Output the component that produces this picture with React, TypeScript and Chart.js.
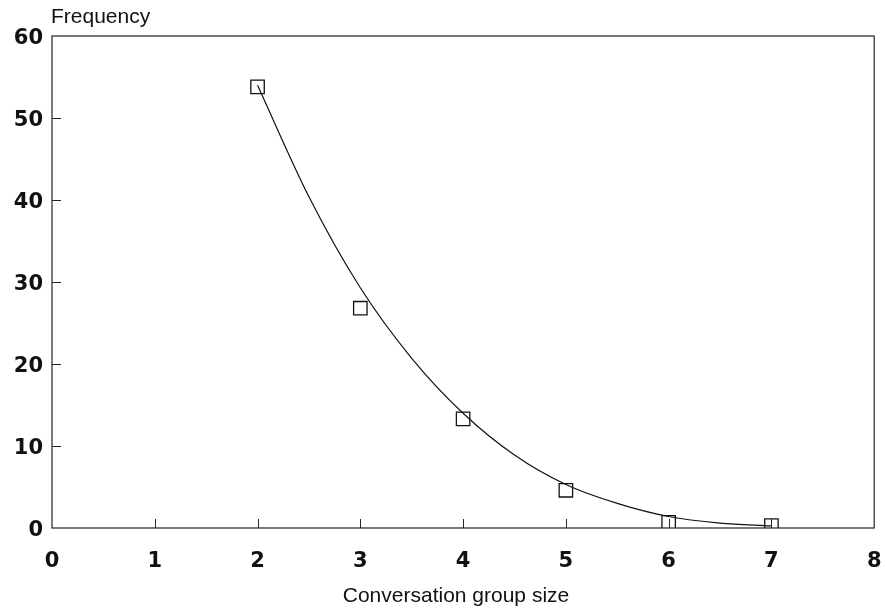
import React, { useEffect, useRef } from "react";
import { Chart, registerables } from "chart.js";

Chart.register(...registerables);

// Observed data (conversation group size vs frequency)
const groupSizes = [2, 3, 4, 5, 6, 7];
const frequencies = [53.8, 26.8, 13.3, 4.6, 0.7, 0.3];

// Fitted curve
const fitX = [2, 2.5, 3, 3.5, 4, 4.5, 5, 5.5, 6, 6.5, 7];
const fitY = [54, 40.4, 29.3, 20.7, 14, 8.9, 5.3, 3.0, 1.4, 0.6, 0.25];

const xTitle = "Conversation group size";
const yTitle = "Frequency";

const TICK_FONT = "'DejaVu Sans', sans-serif";
const TITLE_FONT = "'Liberation Sans', Arial, sans-serif";

const framePlugin = {
  id: "frame",
  afterDraw(chart: any) {
    const { ctx, chartArea, scales } = chart;
    const { left, right, top, bottom } = chartArea;
    ctx.save();
    ctx.strokeStyle = "#222";
    ctx.lineWidth = 1.2;
    ctx.strokeRect(left, top, right - left, bottom - top);
    // inner ticks
    ctx.lineWidth = 1;
    const xs = scales.x;
    xs.ticks.forEach((t: any) => {
      if (t.value <= xs.min || t.value >= xs.max) return;
      const px = Math.round(xs.getPixelForValue(t.value)) + 0.5;
      ctx.beginPath();
      ctx.moveTo(px, bottom);
      ctx.lineTo(px, bottom - 9);
      ctx.stroke();
    });
    const ys = scales.y;
    ys.ticks.forEach((t: any) => {
      if (t.value <= ys.min || t.value >= ys.max) return;
      const py = Math.round(ys.getPixelForValue(t.value)) + 0.5;
      ctx.beginPath();
      ctx.moveTo(left, py);
      ctx.lineTo(left + 9, py);
      ctx.stroke();
    });
    // titles
    ctx.fillStyle = "#111";
    ctx.font = `21px ${TITLE_FONT}`;
    ctx.textAlign = "left";
    ctx.textBaseline = "alphabetic";
    ctx.fillText(yTitle, left - 1, 23);
    ctx.textAlign = "center";
    ctx.fillText(xTitle, 456, 602);
    ctx.restore();
  },
};

export default function App() {
  const ref = useRef<HTMLCanvasElement | null>(null);

  useEffect(() => {
    if (!ref.current) return;
    const chart = new Chart(ref.current, {
      type: "scatter",
      data: {
        datasets: [
          {
            type: "line",
            label: "fit",
            data: fitX.map((x, i) => ({ x, y: fitY[i] })),
            borderColor: "#111",
            borderWidth: 1.2,
            pointRadius: 0,
            fill: false,
            cubicInterpolationMode: "monotone",
          } as any,
          {
            label: "observed",
            data: groupSizes.map((x, i) => ({ x, y: frequencies[i] })),
            pointStyle: "rect",
            pointRadius: 9.5,
            borderColor: "#111",
            borderWidth: 1.3,
            backgroundColor: "rgba(0,0,0,0)",
          },
        ],
      },
      options: {
        animation: false,
        responsive: true,
        maintainAspectRatio: false,
        layout: { padding: { top: 36, right: 0, left: 0, bottom: 0 } },
        plugins: {
          legend: { display: false },
          tooltip: { enabled: false },
        },
        scales: {
          x: {
            type: "linear",
            min: 0,
            max: 8,
            ticks: {
              stepSize: 1,
              padding: 21,
              color: "#111",
              font: { family: TICK_FONT, size: 21, weight: "bold" },
            },
            grid: { display: false, drawTicks: false },
            border: { display: false },
            afterFit: (s: any) => {
              s.height = 85;
              s.paddingLeft = 0;
              s.paddingRight = 8;
            },
          },
          y: {
            type: "linear",
            min: 0,
            max: 60,
            ticks: {
              stepSize: 10,
              padding: 9,
              labelOffset: 3,
              color: "#111",
              font: { family: TICK_FONT, size: 21, weight: "bold" },
            },
            grid: { display: false, drawTicks: false },
            border: { display: false },
            afterFit: (s: any) => {
              s.width = 52;
              s.paddingTop = 0;
              s.paddingBottom = 0;
            },
          },
        },
      },
      plugins: [framePlugin],
    });
    return () => chart.destroy();
  }, []);

  return (
    <div style={{ position: "absolute", left: 0, top: 0, width: 885, height: 613, background: "#fff" }}>
      <canvas ref={ref} />
    </div>
  );
}
